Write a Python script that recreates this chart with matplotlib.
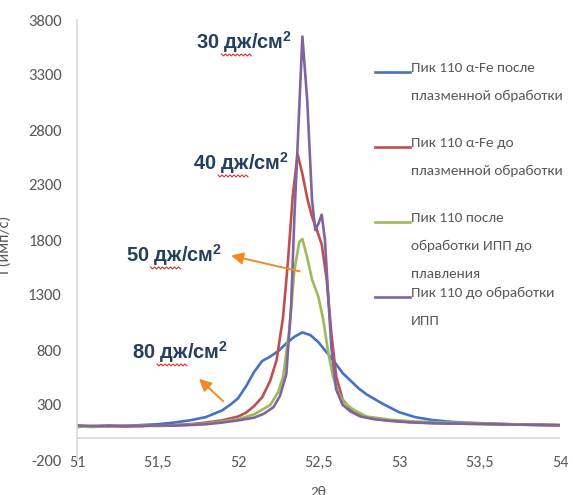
import matplotlib
matplotlib.use('Agg')
import matplotlib.pyplot as plt
from matplotlib.lines import Line2D
from matplotlib.transforms import IdentityTransform
import numpy as np

# --- data ---
x_blue = [51.0, 51.1, 51.2, 51.3, 51.4, 51.5, 51.6, 51.7, 51.8, 51.9, 51.95, 52.0, 52.05, 52.1,
          52.15, 52.2, 52.25, 52.3, 52.35, 52.4, 52.45, 52.5, 52.55, 52.6, 52.65, 52.7, 52.75,
          52.8, 52.9, 53.0, 53.1, 53.2, 53.3, 53.4, 53.5, 53.6, 53.7, 53.8, 53.9, 54.0]
y_blue = [110, 105, 112, 108, 118, 125, 140, 160, 190, 250, 300, 360, 470, 600,
          700, 740, 790, 860, 920, 960, 935, 870, 780, 690, 590, 520, 450,
          395, 310, 235, 190, 165, 150, 140, 135, 130, 125, 120, 118, 115]

x_red = [51.0, 51.1, 51.2, 51.3, 51.4, 51.5, 51.6, 51.7, 51.8, 51.9, 52.0, 52.05, 52.1, 52.15,
         52.2, 52.24, 52.28, 52.31, 52.34, 52.37, 52.40, 52.43, 52.46, 52.49, 52.52, 52.55,
         52.58, 52.61, 52.65, 52.7, 52.75, 52.8, 52.9, 53.0, 53.2, 53.4, 53.6, 53.8, 54.0]
y_red = [100, 110, 105, 112, 108, 115, 118, 125, 140, 160, 195, 230, 290, 370,
         520, 710, 1100, 1600, 2200, 2580, 2400, 2180, 2010, 1890, 1760, 1450,
         950, 560, 350, 255, 210, 190, 165, 150, 135, 130, 125, 120, 115]

x_green = [51.0, 51.1, 51.2, 51.3, 51.4, 51.5, 51.6, 51.7, 51.8, 51.9, 52.0, 52.1, 52.2, 52.25,
           52.28, 52.32, 52.35, 52.38, 52.40, 52.43, 52.46, 52.50, 52.53, 52.56, 52.59, 52.62,
           52.66, 52.72, 52.8, 52.95, 53.1, 53.3, 53.5, 53.7, 53.9, 54.0]
y_green = [105, 100, 110, 104, 112, 108, 115, 120, 130, 150, 170, 215, 300, 420,
           555, 1000, 1520, 1780, 1810, 1640, 1440, 1280, 1070, 780, 560, 420,
           320, 255, 195, 165, 150, 140, 132, 125, 120, 118]

x_purple = [51.0, 51.1, 51.2, 51.3, 51.4, 51.5, 51.6, 51.7, 51.8, 51.9, 52.0, 52.1, 52.16, 52.22,
            52.26, 52.30, 52.33, 52.35, 52.37, 52.40, 52.43, 52.46, 52.48, 52.50, 52.52, 52.54,
            52.56, 52.58, 52.61, 52.65, 52.7, 52.76, 52.85, 52.95, 53.1, 53.3, 53.5, 53.7,
            53.9, 54.0]
y_purple = [115, 108, 112, 105, 110, 115, 112, 118, 125, 140, 160, 185, 220, 280,
            380, 580, 1200, 2000, 2650, 3650, 3070, 2160, 1890, 1950, 2030, 1800,
            1300, 820, 440, 300, 240, 195, 170, 155, 140, 132, 128, 122, 120, 118]

labels = ['Пик 110 α-Fe после\nплазменной обработки',
          'Пик 110 α-Fe до\nплазменной обработки',
          'Пик 110 после\nобработки ИПП до\nплавления',
          'Пик 110 до обработки\nИПП']
colors = ['#4472C4', '#C0504D', '#9BBB59', '#8064A2']

energies = ['30', '40', '50', '80']
energy_pos = [(52.04, 3600), (52.02, 2500), (51.60, 1664), (51.64, 782)]

xticks = [51, 51.5, 52, 52.5, 53, 53.5, 54]
xticklabels = ['51', '51,5', '52', '52,5', '53', '53,5', '54']
yticks = np.arange(-200, 3801, 500)

narrow = ['Carlito', 'DejaVu Sans']
bold = ['Liberation Sans', 'DejaVu Sans']
gray = '#595959'

plt.rcParams['mathtext.fontset'] = 'custom'
plt.rcParams['mathtext.bf'] = 'Liberation Sans:bold'
plt.rcParams['mathtext.rm'] = 'Liberation Sans:bold'

fig = plt.figure(figsize=(5.73, 4.95), dpi=100)
ax = fig.add_axes([77/573, 1-460/495, (560-77)/573, 440/495])

series = [(x_blue, y_blue), (x_red, y_red), (x_green, y_green), (x_purple, y_purple)]
for (xs, ys), c in zip(series, colors):
    ax.plot(xs, ys, color=c, lw=1.9)

ax.set_xlim(51, 54)
ax.set_ylim(-200, 3800)
ax.axhline(0, color='#D9D9D9', lw=1.2, zorder=0)
for s in ['top', 'right', 'bottom']:
    ax.spines[s].set_visible(False)
ax.spines['left'].set_color('#D9D9D9')
ax.spines['left'].set_linewidth(1.2)

ax.set_xticks(xticks)
ax.set_xticklabels(xticklabels, family=narrow, fontsize=11.5, color=gray)
ax.set_yticks(yticks)
ax.set_yticklabels([str(v) for v in yticks], family=narrow, fontsize=12, color=gray)
ax.tick_params(axis='x', length=0, pad=-3)
ax.tick_params(axis='y', length=0, pad=11)

# energy labels
etexts = []
for num, (xx, yy) in zip(energies, energy_pos):
    t = ax.text(xx, yy, num + r' дж/см$^{\mathbf{2}}$', ha='center', va='center',
                fontsize=14.5, fontweight='bold', color='#243F60', family=bold)
    etexts.append((num, t))

# arrows
arrow = dict(arrowstyle='-|>', color='#F08A24', lw=1.4, mutation_scale=18)
ax.annotate('', xy=(51.94, 1664), xytext=(52.40, 1509), arrowprops=arrow)
ax.annotate('', xy=(51.745, 555), xytext=(51.92, 318), arrowprops=arrow)

# spell-check wavy underline under "дж"
fig.canvas.draw()
r = fig.canvas.get_renderer()
for num, t in etexts:
    bb = t.get_window_extent(r)
    tmp1 = ax.text(0, 0, num + ' ', fontsize=14.5, fontweight='bold', family=bold)
    tmp2 = ax.text(0, 0, num + ' дж', fontsize=14.5, fontweight='bold', family=bold)
    w1 = tmp1.get_window_extent(r).width
    w2 = tmp2.get_window_extent(r).width
    tmp1.remove()
    tmp2.remove()
    xs = np.arange(bb.x0 + w1 - 3, bb.x0 + w2 + 1, 2.0)
    ys = bb.y0 + 1 + np.where(np.arange(len(xs)) % 2 == 0, 0, -2)
    fig.add_artist(Line2D(xs, ys, color='#E03030', lw=0.8, transform=IdentityTransform()))

# legend (Excel-style, placed by hand)
leg_y = [72, 147, 222, 297]
for lab, c, yy in zip(labels, colors, leg_y):
    fy = 1 - yy/495
    fig.add_artist(Line2D([375/573, 410/573], [fy, fy], color=c, lw=1.9))
    fig.text(411/573, fy + 10/495, lab, ha='left', va='top', fontsize=11,
             color=gray, family=narrow, linespacing=2.6)

fig.text(5/573, 1-245/495, 'I (имп/с)', rotation=90, ha='center',
         va='center', fontsize=11.5, color=gray, family=narrow)
fig.text(318/573, 1-492/495, '2θ', ha='center', va='center', fontsize=11, color=gray,
         family=narrow)

plt.savefig('out.png', dpi=100)
